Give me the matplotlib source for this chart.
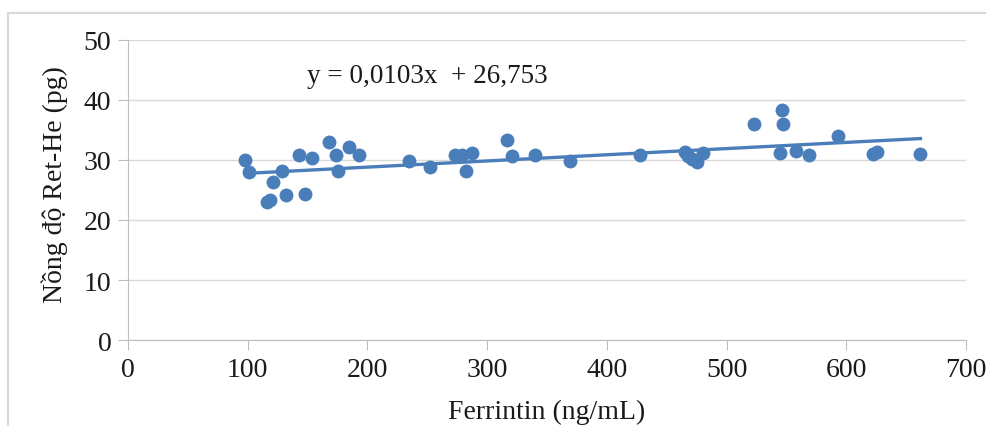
import matplotlib.pyplot as plt
import numpy as np
from matplotlib.patches import Rectangle

plt.rcParams['font.family'] = ['Liberation Serif', 'DejaVu Serif']

# Ferritin (ng/mL) vs Ret-He (pg)
ferritin = [98, 101, 116, 119, 121, 129, 132, 143, 148, 154, 168, 174, 175,
            185, 193, 235, 252, 273, 279, 282, 287, 317, 321, 340, 369, 428,
            465, 468, 471, 475, 480, 523, 545, 546, 547, 558, 569, 593, 622,
            626, 662]
rethe = [30.0, 28.0, 23.0, 23.3, 26.3, 28.2, 24.1, 30.9, 24.3, 30.4, 33.0,
         30.8, 28.2, 32.2, 30.8, 29.8, 28.9, 30.8, 30.8, 28.2, 31.1, 33.3,
         30.6, 30.9, 29.8, 30.9, 31.4, 30.6, 30.2, 29.7, 31.1, 36.0, 31.1,
         38.3, 36.0, 31.5, 30.8, 34.0, 31.0, 31.3, 31.0]
slope, intercept = 0.0103, 26.753

blue = '#4a7ebb'
txt = '#1a1a1a'

fig = plt.figure(figsize=(9.87, 4.27), dpi=100)
ax = fig.add_axes([0.1297, 0.2014, 0.849, 0.7026])

# outer chart frame (only top/left visible in the crop)
fig.patches.append(Rectangle((8 / 987, -0.1), 1.1, (427 - 14) / 427 + 0.1,
                             transform=fig.transFigure, fill=False,
                             edgecolor='#d9d9d9', linewidth=1.5))

ax.scatter(ferritin, rethe, s=100, color=blue, zorder=3, linewidths=0)
xt = np.array([min(ferritin), max(ferritin)])
ax.plot(xt, slope * xt + intercept, color=blue, linewidth=2.4, zorder=2)

ax.set_xlim(0, 700)
ax.set_ylim(0, 50)
ax.set_xticks(range(0, 701, 100))
ax.set_yticks(range(0, 51, 10))
ax.grid(axis='y', color='#d9d9d9', linewidth=1)
ax.set_axisbelow(True)
for s in ['top', 'right']:
    ax.spines[s].set_visible(False)
for s in ['left', 'bottom']:
    ax.spines[s].set_color('#bfbfbf')
ax.tick_params(axis='both', colors='#bfbfbf', labelcolor=txt,
               labelsize=20, length=7)
ax.tick_params(axis='x', pad=5)
ax.tick_params(axis='y', pad=5)

ax.text(250, 44, 'y = 0,0103x  + 26,753', fontsize=19.5, ha='center',
        va='center', color=txt)
ax.set_xlabel('Ferrintin (ng/mL)', fontsize=20, color=txt, va='center')
ax.xaxis.set_label_coords(0.5, -0.237)
ax.set_ylabel('Nồng độ Ret-He (pg)', fontsize=20, color=txt, va='center')
ax.yaxis.set_label_coords(-0.087, 0.52)

fig.savefig('out.png', dpi=100)
